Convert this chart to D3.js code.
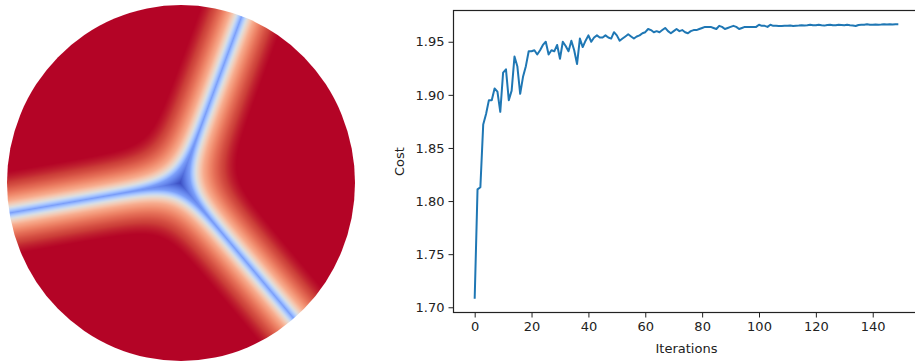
<!DOCTYPE html>
<html>
<head>
<meta charset="utf-8">
<script src="https://cdn.jsdelivr.net/npm/d3@7"></script>
<style>
  html, body { margin: 0; padding: 0; background: #fff; }
  svg { display: block; font-family: "DejaVu Sans", sans-serif; }
</style>
</head>
<body>
<svg id="chart" width="915" height="362"></svg>
<script>
// cost per iteration
const costs = [
  1.708, 1.811, 1.813, 1.872, 1.882, 1.895, 1.895, 1.906, 1.903, 1.884,
  1.921, 1.924, 1.895, 1.904, 1.936, 1.927, 1.901, 1.917, 1.927, 1.941,
  1.941, 1.942, 1.938, 1.942, 1.947, 1.950, 1.938, 1.942, 1.941, 1.947,
  1.934, 1.950, 1.946, 1.941, 1.951, 1.942, 1.929, 1.953, 1.945, 1.951,
  1.956, 1.950, 1.954, 1.956, 1.954, 1.954, 1.956, 1.954, 1.953, 1.959,
  1.956, 1.951, 1.953, 1.955, 1.957, 1.955, 1.953, 1.955, 1.956, 1.958,
  1.959, 1.962, 1.961, 1.959, 1.960, 1.959, 1.961, 1.963, 1.960, 1.958,
  1.960, 1.962, 1.960, 1.961, 1.959, 1.958, 1.960, 1.961, 1.961, 1.962,
  1.963, 1.964, 1.964, 1.964, 1.963, 1.962, 1.965, 1.964, 1.962, 1.963,
  1.964, 1.965, 1.964, 1.962, 1.963, 1.964, 1.964, 1.964, 1.964, 1.964,
  1.966, 1.965, 1.965, 1.964, 1.966, 1.965, 1.965, 1.9648, 1.9648, 1.965,
  1.965, 1.9652, 1.9648, 1.965, 1.9652, 1.9655, 1.9652, 1.9655, 1.966, 1.9655,
  1.9655, 1.966, 1.9655, 1.9652, 1.9658, 1.966, 1.9655, 1.9655, 1.966, 1.9658,
  1.9655, 1.966, 1.9655, 1.9652, 1.9648, 1.9658, 1.966, 1.966, 1.9665, 1.966,
  1.966, 1.9662, 1.966, 1.9662, 1.9665, 1.9662, 1.9665, 1.9662, 1.9665, 1.9665
];
const iterations = costs.map((_, i) => i);
const xTicks = [0, 20, 40, 60, 80, 100, 120, 140];
const yTicks = [1.70, 1.75, 1.80, 1.85, 1.90, 1.95];

// phase field on the disk: three regions meeting at a triple junction
const junction = [180, 183];
const armAngles = [-69.1, 49.6, 169.8]; // degrees, screen coords
const fieldLevels = [1 / 3, 0.5, 0.61, 0.72, 0.87, 0.96];
const colorLevels = [0, 0.2, 0.5, 0.7, 0.88, 1];

// matplotlib coolwarm
const coolwarmT = [0, 0.0625, 0.125, 0.1875, 0.25, 0.3125, 0.375, 0.4375, 0.5,
  0.5625, 0.625, 0.6875, 0.75, 0.8125, 0.875, 0.9375, 1];
const coolwarmC = ['rgb(59,76,192)', 'rgb(77,104,215)', 'rgb(98,130,234)', 'rgb(119,154,247)',
  'rgb(141,176,254)', 'rgb(163,194,255)', 'rgb(184,208,249)', 'rgb(204,217,238)', 'rgb(221,221,221)',
  'rgb(236,211,197)', 'rgb(245,196,172)', 'rgb(247,177,148)', 'rgb(244,154,123)', 'rgb(236,127,99)',
  'rgb(222,96,77)', 'rgb(203,62,56)', 'rgb(180,4,38)'];

const svg = d3.select('#chart');
const ink = '#222';

// ---------- left: disk ----------
const disk = { cx: 181, cy: 183, rx: 174, ry: 178 };
const cmap = d3.scaleLinear().domain(coolwarmT).range(coolwarmC)
  .interpolate(d3.interpolateRgb).clamp(true);
const tScale = d3.scaleLinear().domain(fieldLevels).range(colorLevels).clamp(true);

// region normals = bisectors between neighbouring arms
const sorted = armAngles.slice().sort((a, b) => a - b);
const normals = sorted.map((a, i) => {
  const b = i < sorted.length - 1 ? sorted[i + 1] : sorted[0] + 360;
  const m = ((a + b) / 2) * Math.PI / 180;
  return [Math.cos(m), Math.sin(m)];
});
const sharp = 0.0445;

const W = 362, H = 362;
const canvas = document.createElement('canvas');
canvas.width = W; canvas.height = H;
const ctx = canvas.getContext('2d');
const img = ctx.createImageData(W, H);
for (let y = 0; y < H; y++) {
  for (let x = 0; x < W; x++) {
    const dx = x + 0.5 - junction[0], dy = y + 0.5 - junction[1];
    const s = normals.map(n => sharp * (n[0] * dx + n[1] * dy));
    const m = d3.max(s);
    const v = 1 / d3.sum(s, d => Math.exp(d - m));
    const c = d3.rgb(cmap(tScale(v)));
    const k = (y * W + x) * 4;
    img.data[k] = c.r; img.data[k + 1] = c.g; img.data[k + 2] = c.b; img.data[k + 3] = 255;
  }
}
ctx.putImageData(img, 0, 0);

svg.append('clipPath').attr('id', 'diskClip')
  .append('ellipse')
  .attr('cx', disk.cx).attr('cy', disk.cy).attr('rx', disk.rx).attr('ry', disk.ry);
svg.append('image')
  .attr('x', 0).attr('y', 0).attr('width', W).attr('height', H)
  .attr('href', canvas.toDataURL())
  .attr('clip-path', 'url(#diskClip)');

// ---------- right: cost curve ----------
const box = { left: 453.5, right: 919.5, top: 10.5, bottom: 312.5 };
const pad = (ext, f) => [ext[0] - (ext[1] - ext[0]) * f, ext[1] + (ext[1] - ext[0]) * f];

const x = d3.scaleLinear().domain(pad(d3.extent(iterations), 0.05)).range([box.left, box.right]);
const y = d3.scaleLinear().domain(pad(d3.extent(costs), 0.05)).range([box.bottom, box.top]);

const gx = svg.append('g').attr('transform', `translate(0,${box.bottom})`)
  .call(d3.axisBottom(x).tickValues(xTicks).tickFormat(d3.format('d')).tickSizeOuter(0).tickSize(5).tickPadding(4));
const gy = svg.append('g').attr('transform', `translate(${box.left},0)`)
  .call(d3.axisLeft(y).tickValues(yTicks).tickFormat(d3.format('.2f')).tickSizeOuter(0).tickSize(5).tickPadding(4));
[gx, gy].forEach(g => {
  g.select('.domain').remove();
  g.selectAll('line').attr('stroke', ink).attr('stroke-width', 1);
  g.selectAll('text').attr('fill', ink).style('font-size', '13px').style('font-family', '"DejaVu Sans", sans-serif');
});

svg.append('path')
  .datum(iterations)
  .attr('fill', 'none')
  .attr('stroke', '#1f77b4')
  .attr('stroke-width', 2)
  .attr('stroke-linejoin', 'round')
  .attr('d', d3.line().x(i => x(i)).y(i => y(costs[i])));

// spines
svg.append('rect')
  .attr('x', box.left).attr('y', box.top)
  .attr('width', box.right - box.left).attr('height', box.bottom - box.top)
  .attr('fill', 'none').attr('stroke', ink).attr('stroke-width', 1.2);

svg.append('text')
  .attr('x', (box.left + box.right) / 2).attr('y', 353)
  .attr('text-anchor', 'middle').attr('fill', ink)
  .style('font-size', '13px').text('Iterations');
svg.append('text')
  .attr('transform', `translate(404,${(box.top + box.bottom) / 2}) rotate(-90)`)
  .attr('text-anchor', 'middle').attr('fill', ink)
  .style('font-size', '13px').text('Cost');
</script>
</body>
</html>
